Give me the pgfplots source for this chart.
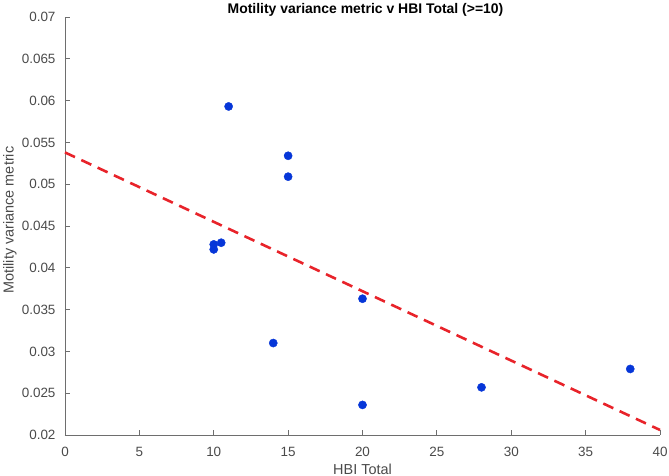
\documentclass[border=0pt]{standalone}
\usepackage{fontspec}
\setmainfont{Liberation Sans}
\usepackage{pgfplots}
\pgfplotsset{compat=1.18}
\definecolor{axgray}{HTML}{6E6E6E}
\definecolor{txtgray}{HTML}{4A4A4A}
\definecolor{ptblue}{HTML}{0636D8}
\definecolor{fitred}{HTML}{E8232A}
\begin{document}
\begin{tikzpicture}
\useasboundingbox (-65bp,-41bp) rectangle (604bp,435bp);
\begin{axis}[
  at={(0,0)}, anchor=south west,
  scale only axis, width=595bp, height=418bp,
  xmin=0, xmax=40, ymin=0.02, ymax=0.07,
  xtick={0,5,...,40},
  ytick={0.02,0.025,0.03,0.035,0.04,0.045,0.05,0.055,0.06,0.065,0.07},
  yticklabels={0.02,0.025,0.03,0.035,0.04,0.045,0.05,0.055,0.06,0.065,0.07},
  scaled y ticks=false,
  /pgf/number format/assume math mode=true,
  axis x line*=bottom, axis y line*=left,
  axis line style={axgray, line width=0.9pt, -},
  tick style={axgray, line width=0.8pt},
  tick align=inside, major tick length=5bp,
  ticklabel style={font=\fontsize{13.5}{15}\selectfont, text=txtgray},
  xticklabel style={anchor=center, yshift=-17bp},
  yticklabel style={anchor=east, xshift=-6bp},
  title={\textbf{Motility variance metric v HBI Total (>=10)}},
  title style={font=\fontsize{14}{16}\selectfont, at={(axis description cs:0.5,1)}, anchor=center, yshift=1.5bp, xshift=3bp, text=black},
  xlabel={HBI Total},
  ylabel={Motility variance metric},
  xlabel style={font=\fontsize{14.5}{16}\selectfont, text=txtgray, at={(axis description cs:0.5,0)}, anchor=center, yshift=-34bp},
  ylabel style={font=\fontsize{14.5}{16}\selectfont, text=txtgray, at={(axis description cs:0,0.514)}, anchor=center, yshift=55bp},
  clip=false,
]
\addplot[fitred, line width=2.6pt, dash pattern=on 11bp off 7bp] coordinates {(0,0.0538) (40,0.0206)};
\addplot[only marks, mark=*, mark size=4.1bp, mark options={draw=ptblue, fill=ptblue}] coordinates {
(11,0.0593) (15,0.0534) (15,0.0509) (10.5,0.0430) (10,0.0428) (10,0.0422)
(20,0.0363) (14,0.0310) (20,0.0236) (28,0.0257) (38,0.0279)
};
\end{axis}
\end{tikzpicture}
\end{document}
